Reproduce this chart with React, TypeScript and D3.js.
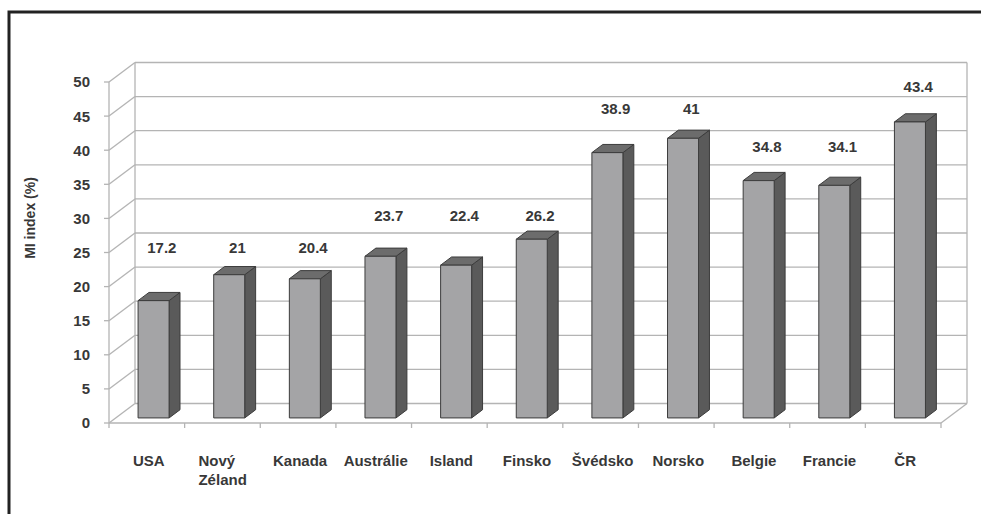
import React from "react";
import * as d3 from "d3";

const categories = ["USA", "Nový Zéland", "Kanada", "Austrálie", "Island", "Finsko", "Švédsko", "Norsko", "Belgie", "Francie", "ČR"];
const values = [17.2, 21, 20.4, 23.7, 22.4, 26.2, 38.9, 41, 34.8, 34.1, 43.4];
// level (in axis units, on the back wall) where each value label's baseline sits
const labelLevels = [22, 22, 22, 26.8, 26.8, 26.8, 42.5, 42.5, 36.9, 36.9, 45.7];
const yTicks = [0, 5, 10, 15, 20, 25, 30, 35, 40, 45, 50];
const axisTitle = "MI index (%)";

const W = 981;
const H = 514;
const FONT = "'Liberation Sans', Arial, sans-serif";
const TEXT = "#383838";
const GRID = "#b4b4b4";

// oblique depth of the 3D box
const DX = 26;
const DY = -19.5;

export default function App() {
  const x = d3.scaleBand<string>().domain(categories).range([109, 941]).paddingInner(0).paddingOuter(0);
  const y = d3.scaleLinear().domain([0, 50]).range([423, 82]);

  const at = (px: number, py: number, t: number): [number, number] => [px + t * DX, py + t * DY];
  const pts = (arr: [number, number][]) => arr.map((p) => p.join(",")).join(" ");

  const barFrac = 0.41;
  const d0 = 0.26;
  const d1 = 0.68;

  const x0 = 109, x1 = 941;
  const y0 = y(0), yTop = y(50);

  return (
    <svg width={W} height={H} style={{ position: "absolute", left: 0, top: 0, background: "#fff" }}>
      {/* outer frame */}
      <path d={`M9,${H + 5} L9,12 L${W + 5},12`} fill="none" stroke="#222" strokeWidth={3} />

      {/* back wall and gridlines */}
      {yTicks.map((t) => {
        const [bx0, by] = at(x0, y(t), 1);
        const [bx1] = at(x1, y(t), 1);
        return (
          <g key={`g${t}`}>
            <line x1={bx0} y1={by} x2={bx1} y2={by} stroke={GRID} strokeWidth={1.3} />
            <line x1={x0} y1={y(t)} x2={bx0} y2={by} stroke={GRID} strokeWidth={1.3} />
            <line x1={x0 - 5} y1={y(t)} x2={x0} y2={y(t)} stroke={GRID} strokeWidth={1.3} />
          </g>
        );
      })}
      {/* wall verticals */}
      <line x1={x0} y1={y0} x2={x0} y2={yTop} stroke={GRID} strokeWidth={1.3} />
      <line x1={at(x0, y0, 1)[0]} y1={at(x0, y0, 1)[1]} x2={at(x0, yTop, 1)[0]} y2={at(x0, yTop, 1)[1]} stroke={GRID} strokeWidth={1.3} />
      <line x1={at(x1, y0, 1)[0]} y1={at(x1, y0, 1)[1]} x2={at(x1, yTop, 1)[0]} y2={at(x1, yTop, 1)[1]} stroke={GRID} strokeWidth={1.3} />
      {/* floor */}
      <line x1={x0} y1={y0} x2={x1} y2={y0} stroke={GRID} strokeWidth={1.3} />
      <line x1={x1} y1={y0} x2={at(x1, y0, 1)[0]} y2={at(x1, y0, 1)[1]} stroke={GRID} strokeWidth={1.3} />
      {categories.map((c, i) => {
        const bx = x(c) as number;
        return <line key={`ct${i}`} x1={bx} y1={y0} x2={bx} y2={y0 + 5} stroke={GRID} strokeWidth={1.3} />;
      })}
      <line x1={x1} y1={y0} x2={x1} y2={y0 + 5} stroke={GRID} strokeWidth={1.3} />

      {/* y tick labels */}
      {yTicks.map((t) => (
        <text key={`yt${t}`} x={90} y={y(t)} dy="0.36em" textAnchor="end" fontFamily={FONT} fontWeight="bold" fontSize={15} fill={TEXT}>
          {t}
        </text>
      ))}
      <text transform={`translate(35,218) rotate(-90)`} textAnchor="middle" fontFamily={FONT} fontWeight="bold" fontSize={14} fill={TEXT}>
        {axisTitle}
      </text>

      {/* bars */}
      {categories.map((c, i) => {
        const bw = x.bandwidth() * barFrac;
        const left = (x(c) as number) + (x.bandwidth() - bw) / 2;
        const right = left + bw;
        const v = values[i];
        const F = (px: number, py: number) => at(px, py, d0);
        const B = (px: number, py: number) => at(px, py, d1);
        const front = [F(left, y(0)), F(right, y(0)), F(right, y(v)), F(left, y(v))] as [number, number][];
        const side = [F(right, y(0)), B(right, y(0)), B(right, y(v)), F(right, y(v))] as [number, number][];
        const top = [F(left, y(v)), F(right, y(v)), B(right, y(v)), B(left, y(v))] as [number, number][];
        return (
          <g key={`b${i}`} stroke="#3c3c3c" strokeWidth={1} strokeLinejoin="round">
            <polygon points={pts(side)} fill="#5a5a5a" />
            <polygon points={pts(top)} fill="#6c6c6c" />
            <polygon points={pts(front)} fill="#a4a4a6" />
          </g>
        );
      })}

      {/* value labels */}
      {categories.map((c, i) => {
        const cx = (x(c) as number) + x.bandwidth() / 2 + 15;
        const [, ly] = at(0, y(labelLevels[i]), 1);
        return (
          <text key={`v${i}`} x={cx} y={ly} textAnchor="middle" fontFamily={FONT} fontWeight="bold" fontSize={15} fill={TEXT}>
            {values[i]}
          </text>
        );
      })}

      {/* category labels */}
      {categories.map((c, i) => {
        const cx = (x(c) as number) + x.bandwidth() / 2 + 2;
        const parts = c.split(" ");
        if (c === "Nový Zéland") {
          return (
            <text key={`c${i}`} x={cx - 26} y={466} textAnchor="start" fontFamily={FONT} fontWeight="bold" fontSize={15} fill={TEXT}>
              <tspan x={cx - 26}>{parts[0]}</tspan>
              <tspan x={cx - 26} dy={19}>{parts[1]}</tspan>
            </text>
          );
        }
        return (
          <text key={`c${i}`} x={cx} y={466} textAnchor="middle" fontFamily={FONT} fontWeight="bold" fontSize={15} fill={TEXT}>
            {c}
          </text>
        );
      })}
    </svg>
  );
}
